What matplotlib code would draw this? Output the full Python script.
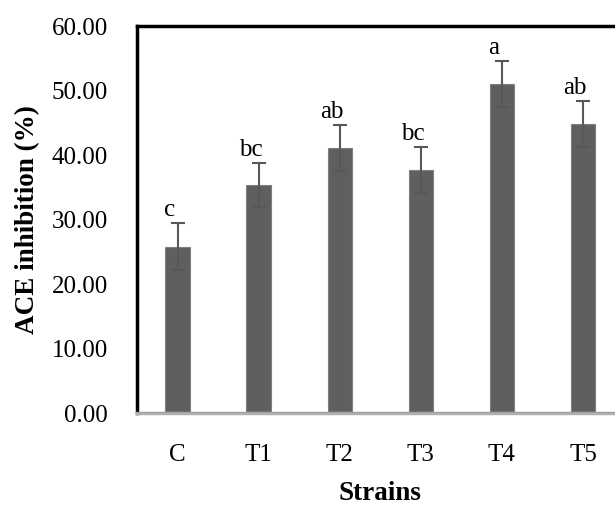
import numpy as np
import matplotlib
matplotlib.use("Agg")
import matplotlib.pyplot as plt

strains = ["C", "T1", "T2", "T3", "T4", "T5"]
inhibition = [25.8, 35.4, 41.1, 37.7, 51.0, 44.8]
errors = [3.6, 3.4, 3.6, 3.6, 3.6, 3.6]
letters = ["c", "bc", "ab", "bc", "a", "ab"]

plt.rcParams['font.family'] = ['Liberation Serif', 'DejaVu Serif']

fig = plt.figure(figsize=(6.15, 5.07), dpi=100)
ax = fig.add_axes([0.2228, 0.1854, 0.791, 0.7633])

x = np.arange(len(strains))
ax.bar(x, inhibition, width=0.3, color='#5f5f5f', edgecolor='#808080', linewidth=0.8, zorder=2)
ax.errorbar(x, inhibition, yerr=errors, fmt='none', ecolor='#585858',
            elinewidth=1.5, capsize=5, capthick=1.5, zorder=3)

# significance letters
for xi, v, e, lab in zip(x, inhibition, errors, letters):
    ax.text(xi - 0.1, v + e + 0.3, lab, ha='center', va='bottom', fontsize=18)

ax.set_xlim(-0.5, 5.5)
ax.set_ylim(0, 60)
ax.set_yticks(np.arange(0, 61, 10))
ax.set_yticklabels([f"{v:.2f}" for v in np.arange(0, 61, 10)])
ax.set_xticks(x)
ax.set_xticklabels(strains)
ax.tick_params(axis='y', length=0, pad=21, labelsize=18)
ax.tick_params(axis='x', length=0, pad=22, labelsize=18)

ax.spines['left'].set_linewidth(2.5)
ax.spines['top'].set_linewidth(2.5)
ax.spines['right'].set_linewidth(2.5)
ax.spines['bottom'].set_color('#b0b0b0')
ax.spines['bottom'].set_linewidth(2.5)
ax.axhline(0, color='#606060', linewidth=1, zorder=4)

ax.set_ylabel("ACE inhibition (%)", fontsize=19.5, fontweight='bold')
ax.yaxis.set_label_coords(-0.2, 0.5)
ax.set_xlabel("Strains", fontsize=19.5, fontweight='bold', va='baseline')
ax.xaxis.set_label_coords(0.5, -0.226)

fig.savefig("out.png", dpi=100)
